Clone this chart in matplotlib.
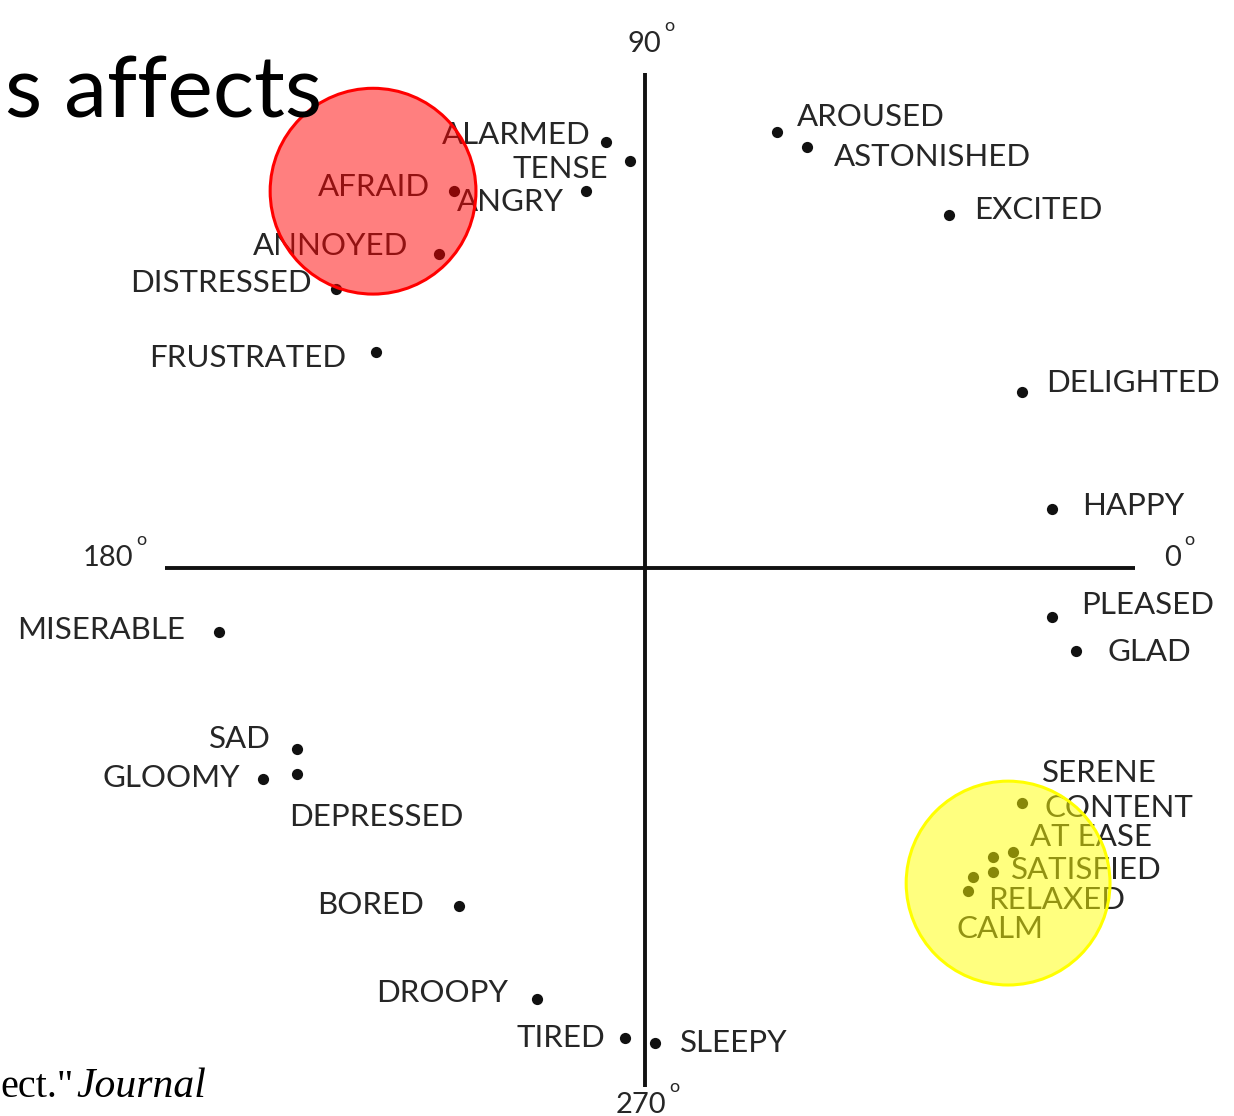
import matplotlib
matplotlib.use("Agg")
import matplotlib.pyplot as plt
from matplotlib.patches import Circle

# affect words on the valence (x) / arousal (y) plane, axis arm ~ 1.0
WORDS = ["ALARMED", "TENSE", "AFRAID", "ANGRY", "ANNOYED", "DISTRESSED",
         "FRUSTRATED", "AROUSED", "ASTONISHED", "EXCITED", "DELIGHTED",
         "HAPPY", "PLEASED", "GLAD", "SERENE", "CONTENT", "AT EASE",
         "SATISFIED", "RELAXED", "CALM", "MISERABLE", "SAD", "GLOOMY",
         "DEPRESSED", "BORED", "DROOPY", "TIRED", "SLEEPY"]
VALENCE = [-0.08, -0.03, -0.39, -0.12, -0.42, -0.63,
           -0.55, 0.27, 0.33, 0.62, 0.77,
           0.83, 0.83, 0.88, 0.77, 0.75, 0.71,
           0.71, 0.67, 0.66, -0.87, -0.71, -0.78,
           -0.71, -0.38, -0.22, -0.04, 0.02]
AROUSAL = [0.87, 0.83, 0.77, 0.77, 0.64, 0.57,
           0.44, 0.89, 0.86, 0.72, 0.36,
           0.12, -0.10, -0.17, -0.48, -0.58, -0.59,
           -0.62, -0.63, -0.66, -0.13, -0.37, -0.43,
           -0.42, -0.69, -0.88, -0.96, -0.97]

# angle labels at the ends of the axes
ANGLES = ["0", "90", "180", "270"]

# highlighted regions: (valence, arousal, radius)
HIGHLIGHTS = [(-0.555, 0.769, 0.21, "#ff0000"),
              (0.741, -0.643, 0.208, "#ffff00")]

# label placement: offset in pixels (dx, dy) and alignment
LABEL_POS = {
    "ALARMED": (-15, 7, "right"), "TENSE": (-22, -8, "right"),
    "AFRAID": (-24, 4, "right"), "ANGRY": (-22, -11, "right"),
    "ANNOYED": (-31, 8, "right"), "DISTRESSED": (-25, 6, "right"),
    "FRUSTRATED": (-29, -6, "right"), "AROUSED": (20, 15, "left"),
    "ASTONISHED": (27, -10, "left"), "EXCITED": (25, 5, "left"),
    "DELIGHTED": (24, 9, "left"), "HAPPY": (30, 3, "left"),
    "PLEASED": (29, 12, "left"), "GLAD": (31, -1, "left"),
    "SERENE": (20, 30, "left"), "CONTENT": (32, 44, "left"),
    "AT EASE": (37, 20, "left"), "SATISFIED": (18, 2, "left"),
    "RELAXED": (15, -23, "left"), "CALM": (-12, -38, "left"),
    "MISERABLE": (-34, 2, "right"), "SAD": (-26, 10, "right"),
    "GLOOMY": (-23, 1, "right"), "DEPRESSED": (-8, -43, "left"),
    "BORED": (-35, 1, "right"), "DROOPY": (-29, 6, "right"),
    "TIRED": (-20, 0, "right"), "SLEEPY": (25, 0, "left"),
}
# where each angle number sits: (x, y, ha)
ANGLE_POS = {"0": (1.06, 0.02, "left"), "90": (-0.035, 1.07, "left"),
             "180": (-1.045, 0.02, "right"), "270": (-0.06, -1.095, "left")}

W, H = 1234, 1116
SCALE = 490.0          # pixels per unit
CX, CY = 645, 568      # pixel position of the origin

fig = plt.figure(figsize=(W / 100, H / 100), dpi=100)
ax = fig.add_axes([0, 0, 1, 1])
ax.set_xlim(-CX / SCALE, (W - CX) / SCALE)
ax.set_ylim(-(H - CY) / SCALE, CY / SCALE)
ax.axis("off")

ink = "#111111"
txt = "#262626"
font = "Lato"

ax.plot([-0.98, 1.0], [0, 0], color=ink, lw=2.8, solid_capstyle="butt")
ax.plot([0, 0], [-1.06, 1.01], color=ink, lw=2.8, solid_capstyle="butt")

# angle numbers with a raised small "o" as the degree mark
for a in ANGLES:
    x, y, ha = ANGLE_POS[a]
    t = ax.text(x, y, a, ha=ha, va="center", fontsize=21, color=txt, family=font)
    ax.annotate("o", xy=(1, 1), xycoords=t, xytext=(3, 5), textcoords="offset pixels",
                ha="left", va="center", fontsize=13, color=txt, family=font)

ax.scatter(VALENCE, AROUSAL, s=65, color=ink, zorder=3, linewidths=0)
for w, x, y in zip(WORDS, VALENCE, AROUSAL):
    dx, dy, ha = LABEL_POS[w]
    ax.annotate(w, (x, y), xytext=(dx, dy), textcoords="offset pixels",
                ha=ha, va="center", fontsize=22.5, color=txt, family=font)

# slide title fragment and citation fragment
fig.text(0.004, 1 - 117 / H, "s affects", ha="left", va="baseline",
         fontsize=62, color="black", family="Lato")
fig.text(0.0, 1 - 1097 / H, 'ect."', ha="left", va="baseline",
         fontsize=29, color="black", family="Liberation Serif")
fig.text(76 / W, 1 - 1097 / H, "Journal", ha="left", va="baseline",
         fontsize=30, color="black", family="Liberation Serif", style="italic")

for x, y, r, c in HIGHLIGHTS:
    ax.add_patch(Circle((x, y), r, facecolor=c, alpha=0.5, edgecolor="none", zorder=5))
    ax.add_patch(Circle((x, y), r, facecolor="none", edgecolor=c, lw=2.2, zorder=6))

fig.savefig("out.png", dpi=100, facecolor="white")
